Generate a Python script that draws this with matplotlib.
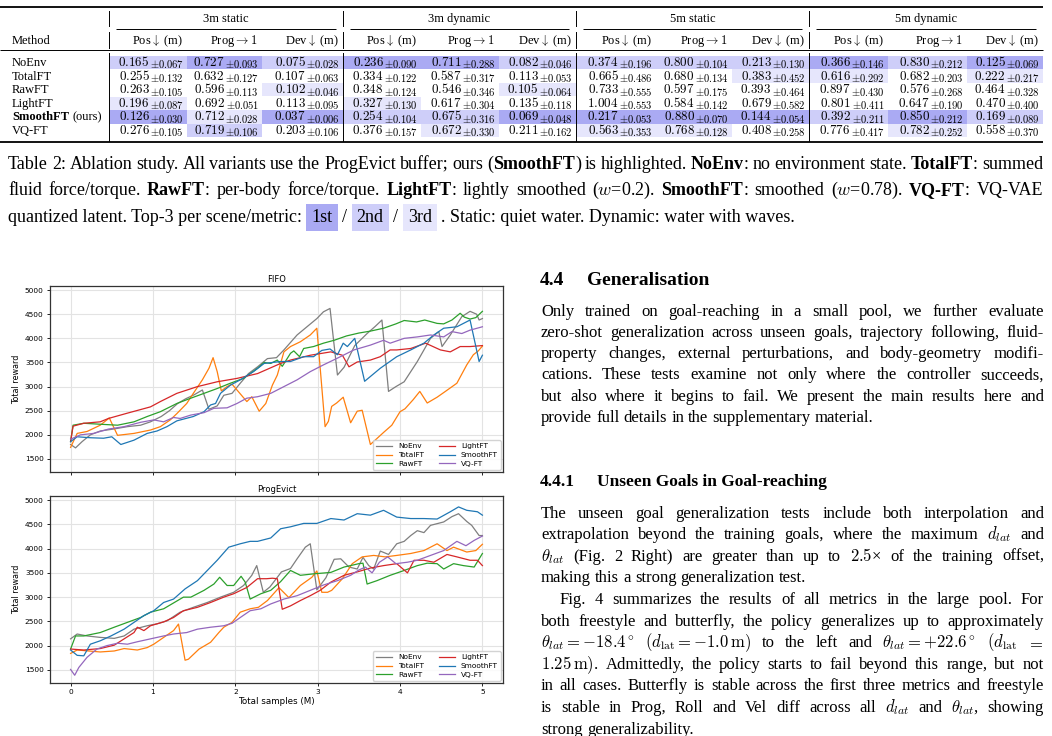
import matplotlib.pyplot as plt
import numpy as np
from matplotlib.patches import Rectangle

plt.rcParams['mathtext.fontset'] = 'cm'
SERIF = 'Liberation Serif'

# ---------------- table data (Table 2) ----------------
methods = ["NoEnv", "TotalFT", "RawFT", "LightFT", "SmoothFT", "VQ-FT"]
scenes = ["3m static", "3m dynamic", "5m static", "5m dynamic"]
metrics = [r"Pos$\downarrow$ (m)", r"Prog$\rightarrow 1$", r"Dev$\downarrow$ (m)"]
means = [
    [0.165, 0.727, 0.075, 0.236, 0.711, 0.082, 0.374, 0.800, 0.213, 0.366, 0.830, 0.125],
    [0.255, 0.632, 0.107, 0.334, 0.587, 0.113, 0.665, 0.680, 0.383, 0.616, 0.682, 0.222],
    [0.263, 0.596, 0.102, 0.348, 0.546, 0.105, 0.733, 0.597, 0.393, 0.897, 0.576, 0.464],
    [0.196, 0.692, 0.113, 0.327, 0.617, 0.135, 1.004, 0.584, 0.679, 0.801, 0.647, 0.470],
    [0.126, 0.712, 0.037, 0.254, 0.675, 0.069, 0.217, 0.880, 0.144, 0.392, 0.850, 0.169],
    [0.276, 0.719, 0.203, 0.376, 0.672, 0.211, 0.563, 0.768, 0.408, 0.776, 0.782, 0.558],
]
stds = [
    [0.067, 0.093, 0.028, 0.090, 0.288, 0.046, 0.196, 0.104, 0.130, 0.146, 0.212, 0.069],
    [0.132, 0.127, 0.063, 0.122, 0.317, 0.053, 0.486, 0.134, 0.452, 0.292, 0.203, 0.217],
    [0.105, 0.113, 0.046, 0.124, 0.346, 0.064, 0.555, 0.175, 0.464, 0.430, 0.268, 0.328],
    [0.087, 0.051, 0.095, 0.130, 0.304, 0.118, 0.553, 0.142, 0.582, 0.411, 0.190, 0.400],
    [0.030, 0.028, 0.006, 0.104, 0.316, 0.048, 0.053, 0.070, 0.054, 0.211, 0.212, 0.089],
    [0.105, 0.106, 0.106, 0.157, 0.330, 0.162, 0.353, 0.128, 0.258, 0.417, 0.252, 0.370],
]

# ---------------- training curves (x in M samples, total reward) ----------------
fifo_noenv = ([0, 0.06, 0.14, 0.24, 0.36, 0.52, 0.69, 0.85, 0.97, 1.1, 1.2, 1.3, 1.4, 1.5, 1.6, 1.68, 1.78, 1.86,
               1.96, 2.06, 2.16, 2.27, 2.39, 2.5, 2.59, 2.75, 2.87, 2.99, 3.07, 3.15, 3.24, 3.32, 3.45, 3.6, 3.7,
               3.78, 3.86, 3.95, 4.05, 4.21, 4.37, 4.47, 4.51, 4.61, 4.75, 4.85, 4.93, 4.96, 5.0],
              [1800, 1730, 1860, 2000, 2080, 2120, 2170, 2200, 2270, 2380, 2500, 2650, 2750, 2830, 2930, 2530,
               2600, 2820, 2860, 3070, 3270, 3410, 3580, 3600, 3760, 4070, 4240, 4410, 4550, 4620, 3240, 3400,
               3850, 4100, 4250, 4380, 2900, 3000, 3100, 3520, 4000, 4140, 3830, 4070, 4450, 4560, 4500, 4380, 4410])
fifo_totalft = ([0, 0.08, 0.2, 0.36, 0.47, 0.57, 0.77, 0.97, 1.09, 1.21, 1.29, 1.41, 1.49, 1.6, 1.68, 1.73, 1.78,
                 1.83, 1.9, 1.96, 2.04, 2.14, 2.2, 2.29, 2.37, 2.45, 2.51, 2.59, 2.67, 2.79, 2.91, 2.99, 3.09, 3.13,
                 3.17, 3.23, 3.31, 3.4, 3.48, 3.54, 3.64, 3.8, 3.9, 4.0, 4.06, 4.16, 4.24, 4.33, 4.45, 4.55, 4.69,
                 4.81, 4.89, 4.95, 5.0],
                [1740, 2030, 2070, 2200, 2350, 1990, 2030, 2100, 2170, 2310, 2440, 2650, 2860, 3140, 3380, 3600,
                 3310, 2910, 3000, 3050, 2890, 2690, 2790, 2490, 2650, 3030, 3240, 3720, 3830, 3930, 4070, 4210,
                 2170, 2280, 2590, 2660, 2780, 2250, 2490, 2510, 1800, 2050, 2200, 2480, 2540, 2730, 2900, 2660,
                 2780, 2900, 3070, 3450, 3660, 3740, 3840])
fifo_rawft = ([0, 0.03, 0.16, 0.36, 0.57, 0.77, 0.93, 1.09, 1.29, 1.46, 1.62, 1.78, 1.94, 2.1, 2.27, 2.35, 2.43,
               2.51, 2.57, 2.67, 2.71, 2.78, 2.83, 2.95, 3.07, 3.2, 3.35, 3.5, 3.64, 3.8, 3.95, 4.05, 4.2, 4.3,
               4.45, 4.53, 4.63, 4.73, 4.78, 4.85, 4.92, 5.0],
              [1860, 2200, 2240, 2220, 2200, 2270, 2380, 2480, 2650, 2760, 2860, 2960, 3070, 3170, 3380, 3500,
               3480, 3550, 3420, 3690, 3740, 3620, 3790, 3830, 3900, 3960, 4050, 4110, 4150, 4210, 4300, 4370,
               4340, 4380, 4310, 4300, 4380, 4520, 4440, 4400, 4430, 4560])
fifo_lightft = ([0, 0.03, 0.16, 0.36, 0.46, 0.69, 0.97, 1.09, 1.29, 1.54, 1.78, 2.02, 2.27, 2.55, 2.67, 2.91,
                 3.16, 3.3, 3.38, 3.48, 3.64, 3.76, 3.88, 3.96, 4.13, 4.31, 4.49, 4.61, 4.73, 4.85, 5.0],
                [1860, 2180, 2240, 2270, 2340, 2450, 2580, 2690, 2860, 3000, 3100, 3170, 3270, 3480, 3550, 3650,
                 3720, 3650, 3410, 3510, 3550, 3620, 3760, 3760, 3790, 3900, 3760, 3720, 3830, 3830, 3850])
fifo_smoothft = ([0, 0.08, 0.24, 0.4, 0.5, 0.61, 0.77, 0.93, 1.05, 1.17, 1.29, 1.49, 1.62, 1.7, 1.76, 1.82, 1.94,
                  2.06, 2.22, 2.35, 2.55, 2.67, 2.83, 2.95, 3.05, 3.15, 3.24, 3.31, 3.36, 3.45, 3.57, 3.76, 3.96,
                  4.13, 4.29, 4.41, 4.53, 4.69, 4.85, 4.96, 5.0],
                 [1860, 1960, 1940, 1930, 1960, 1800, 1890, 2030, 2080, 2170, 2290, 2380, 2480, 2620, 2650, 2860,
                  3030, 3140, 3310, 3480, 3520, 3520, 3620, 3620, 3750, 3780, 3660, 3900, 3830, 4000, 3110, 3380,
                  3620, 3760, 3900, 4070, 4210, 4240, 4380, 3520, 3650])
fifo_vqft = ([0, 0.12, 0.28, 0.46, 0.65, 0.85, 1.01, 1.13, 1.25, 1.33, 1.46, 1.62, 1.74, 1.9, 2.02, 2.14, 2.27,
              2.43, 2.59, 2.75, 2.91, 3.07, 3.24, 3.44, 3.64, 3.8, 3.88, 4.05, 4.21, 4.37, 4.53, 4.63, 4.75, 4.85, 5.0],
             [1910, 2000, 2030, 2120, 2170, 2260, 2310, 2270, 2360, 2340, 2410, 2460, 2550, 2560, 2650, 2760, 2790,
              2860, 3000, 3140, 3310, 3450, 3590, 3760, 3860, 3960, 3900, 4000, 4030, 4070, 4030, 4140, 4100, 4170, 4240])

prog_noenv = ([0, 0.08, 0.2, 0.36, 0.53, 0.65, 0.77, 0.93, 1.05, 1.17, 1.33, 1.49, 1.66, 1.82, 1.98, 2.1, 2.2,
               2.26, 2.34, 2.42, 2.56, 2.67, 2.75, 2.85, 2.91, 2.99, 3.1, 3.2, 3.28, 3.38, 3.48, 3.55, 3.62, 3.68,
               3.76, 3.86, 3.96, 4.05, 4.13, 4.21, 4.29, 4.37, 4.53, 4.63, 4.71, 4.81, 4.87, 4.96, 5.0],
              [2140, 2240, 2200, 2170, 2150, 2200, 2340, 2410, 2450, 2510, 2690, 2790, 2890, 3000, 3100, 3240, 3450,
               3650, 3100, 3210, 3520, 3590, 3790, 4030, 4100, 3150, 3400, 3780, 3790, 3620, 3580, 3820, 3650, 3580,
               3950, 3880, 4100, 4150, 4270, 4370, 4330, 4480, 4550, 4660, 4720, 4560, 4480, 4270, 4270])
prog_totalft = ([0, 0.08, 0.36, 0.53, 0.65, 0.81, 0.93, 1.01, 1.13, 1.25, 1.31, 1.39, 1.43, 1.56, 1.7, 1.8, 1.86,
                 1.96, 2.06, 2.18, 2.28, 2.39, 2.53, 2.65, 2.79, 2.93, 2.99, 3.05, 3.12, 3.17, 3.3, 3.42, 3.54, 3.68,
                 3.82, 3.96, 4.13, 4.29, 4.45, 4.57, 4.65, 4.81, 4.92, 5.0],
                [1840, 1910, 1870, 1890, 1940, 1910, 1960, 2030, 2170, 2310, 2445, 1700, 1720, 1930, 2070, 2270,
                 2380, 2480, 2690, 2760, 2790, 2930, 3195, 2990, 3240, 3410, 3540, 3100, 3100, 3140, 3380, 3690,
                 3830, 3860, 3830, 3860, 3900, 3960, 4100, 3960, 4030, 3930, 3960, 4090])
prog_rawft = ([0, 0.06, 0.16, 0.36, 0.53, 0.69, 0.85, 0.97, 1.13, 1.25, 1.37, 1.46, 1.62, 1.74, 1.81, 1.9, 1.98,
               2.07, 2.12, 2.18, 2.31, 2.43, 2.55, 2.67, 2.79, 2.95, 3.16, 3.32, 3.5, 3.55, 3.6, 3.72, 3.88, 4.05,
               4.21, 4.33, 4.45, 4.53, 4.65, 4.77, 4.9, 5.0],
              [1930, 2200, 2200, 2270, 2380, 2480, 2580, 2690, 2760, 2880, 3000, 3000, 3140, 3270, 3410, 3240,
               3240, 3430, 3310, 2960, 3070, 3140, 3320, 3550, 3450, 3480, 3510, 3620, 3690, 3700, 3270, 3340,
               3450, 3550, 3650, 3700, 3690, 3580, 3690, 3650, 3620, 3900])
prog_lightft = ([0, 0.16, 0.36, 0.53, 0.65, 0.77, 0.81, 0.89, 0.97, 1.13, 1.25, 1.37, 1.54, 1.7, 1.86, 1.98, 2.14,
                 2.27, 2.38, 2.45, 2.51, 2.57, 2.67, 2.79, 2.91, 3.03, 3.16, 3.32, 3.48, 3.64, 3.8, 3.96, 4.09, 4.17,
                 4.29, 4.41, 4.57, 4.69, 4.85, 4.94, 5.0],
                [1930, 1910, 1940, 2010, 2140, 2270, 2380, 2310, 2410, 2490, 2580, 2720, 2790, 2890, 3000, 3070,
                 3200, 3380, 3380, 3390, 3380, 2750, 2820, 2930, 3030, 3140, 3310, 3450, 3520, 3600, 3650, 3690,
                 3500, 3760, 3760, 3720, 3880, 3830, 3760, 3760, 3650])
prog_smoothft = ([0, 0.08, 0.16, 0.24, 0.36, 0.49, 0.65, 0.77, 0.89, 1.01, 1.13, 1.25, 1.39, 1.54, 1.66, 1.78,
                  1.92, 2.06, 2.18, 2.27, 2.43, 2.55, 2.67, 2.83, 2.99, 3.16, 3.32, 3.48, 3.64, 3.8, 3.96, 4.13,
                  4.29, 4.45, 4.61, 4.71, 4.81, 4.94, 5.0],
                 [1910, 1800, 1790, 2030, 2100, 2200, 2340, 2480, 2620, 2720, 2890, 2960, 3170, 3340, 3550, 3760,
                  4030, 4100, 4150, 4150, 4220, 4410, 4450, 4520, 4520, 4620, 4590, 4720, 4690, 4790, 4650, 4620,
                  4620, 4610, 4760, 4860, 4790, 4760, 4690])
prog_vqft = ([0, 0.05, 0.1, 0.2, 0.32, 0.44, 0.57, 0.69, 0.81, 0.97, 1.13, 1.25, 1.41, 1.54, 1.7, 1.86, 1.96, 2.06,
              2.18, 2.31, 2.43, 2.59, 2.75, 2.91, 3.07, 3.24, 3.4, 3.5, 3.58, 3.66, 3.75, 3.85, 3.95, 4.09, 4.21,
              4.37, 4.53, 4.69, 4.8, 4.9, 5.0],
             [1510, 1390, 1550, 1760, 1930, 2000, 2050, 2030, 2080, 2140, 2200, 2240, 2270, 2340, 2380, 2410, 2460,
              2580, 2720, 2760, 2860, 2960, 3030, 3140, 3250, 3340, 3450, 3560, 3620, 3500, 3720, 3830, 3690, 3720,
              3760, 3860, 3960, 4150, 4060, 4170, 4260])

line_colors = ['#7f7f7f', '#ff7f0e', '#2ca02c', '#d62728', '#1f77b4', '#9467bd']
fifo_runs = [fifo_noenv, fifo_totalft, fifo_rawft, fifo_lightft, fifo_smoothft, fifo_vqft]
prog_runs = [prog_noenv, prog_totalft, prog_rawft, prog_lightft, prog_smoothft, prog_vqft]

# ---------------- page canvas ----------------
W, H = 1052, 736
fig = plt.figure(figsize=(W / 100, H / 100), dpi=100)
page = fig.add_axes([0, 0, 1, 1])
page.set_xlim(0, W)
page.set_ylim(H, 0)
page.axis('off')
rend = fig.canvas.get_renderer()


def wid(t):
    return t.get_window_extent(rend).width


def hline(x0, x1, y, lw):
    page.plot([x0, x1], [y, y], color='black', lw=lw, solid_capstyle='butt')


def words_of(s):
    out, cur, math = [], '', False
    for ch in s:
        if ch == '$':
            math = not math
        if ch == ' ' and not math:
            if cur:
                out.append(cur)
            cur = ''
        else:
            cur += ch
    if cur:
        out.append(cur)
    return out


def set_line(s, x0, x1, y, size, justify=True, min_gap=3.0):
    # lays out one line word by word, **...** marks bold runs
    bold = False
    placed = []
    for w in words_of(s):
        pieces = []
        for i, p in enumerate(w.split('**')):
            if i:
                bold = not bold
            if p:
                pieces.append(page.text(x0, y, p, fontsize=size, family=SERIF, va='baseline',
                                        fontweight='bold' if bold else 'normal'))
        placed.append(pieces)
    n = len(placed)
    total = sum(wid(t) for pc in placed for t in pc)
    gap = 0.25 * size * 100 / 72
    if justify and n > 1:
        gap = (x1 - x0 - total) / (n - 1)
        while gap < min_gap:
            size *= 0.98
            for pc in placed:
                for t in pc:
                    t.set_fontsize(size)
            total = sum(wid(t) for pc in placed for t in pc)
            gap = (x1 - x0 - total) / (n - 1)
    x = x0
    for pc in placed:
        for t in pc:
            t.set_x(x)
            x += wid(t)
        x += gap


# ---------------- table ----------------
TS = 9
bounds = [[109, 187, 262, 343], [343, 421, 499, 576], [576, 656, 732, 809], [809, 888, 967, 1043]]
row_y = 62.5 + 13.6 * np.arange(6)
rank_colors = ['#aaaaf3', '#cecef9', '#e6e6fc']

hline(0, 1043, 7, 1.3)
hline(0, 1043, 50, 0.7)
hline(0, 1043, 142, 1.3)
for xv in [109, 343, 576, 809]:
    for y0, y1 in [(11, 26), (32, 48), (53, 141)]:
        page.plot([xv, xv], [y0, y1], color='black', lw=0.7)

page.text(12, 44, "Method", fontsize=TS, family=SERIF, va='baseline')
for g in range(4):
    b = bounds[g]
    hline(b[0] + 7, b[3] - 7, 29, 0.7)
    page.text((b[0] + b[3]) / 2, 22, scenes[g], fontsize=TS, family=SERIF, ha='center', va='baseline')
    for j in range(3):
        page.text(b[j + 1] - 4, 44, metrics[j], fontsize=TS, family=SERIF, ha='right', va='baseline')

for r, name in enumerate(methods):
    if name == "SmoothFT":
        t = page.text(12, row_y[r] + 3.5, name, fontsize=TS, family=SERIF, fontweight='bold', va='baseline')
        page.annotate("(ours)", xy=(1, 0), xycoords=t, xytext=(2.5, 0), textcoords='offset points',
                      fontsize=TS, family=SERIF, va='bottom')
    else:
        page.text(12, row_y[r] + 3.5, name, fontsize=TS, family=SERIF, va='baseline')

for c in range(12):
    g, j = divmod(c, 3)
    x0, x1 = bounds[g][j], bounds[g][j + 1]
    col = np.array([m[c] for m in means])
    order = np.argsort(-col if j == 1 else col)
    for rank in range(3):
        r = order[rank]
        page.add_patch(Rectangle((x0, row_y[r] - 6.8), x1 - x0, 13.6, fc=rank_colors[rank], ec='none', zorder=0))
    for r in range(6):
        sub = page.text(x1 - 3, row_y[r] + 5.8, rf"$\pm{stds[r][c]:.3f}$", fontsize=7.6, ha='right', va='baseline')
        page.text(x1 - 3.5 - wid(sub), row_y[r] + 3.5, rf"${means[r][c]:.3f}$", fontsize=9.4,
                  ha='right', va='baseline')

# ---------------- caption ----------------
CS = 13
cap = [
    "Table 2: Ablation study. All variants use the ProgEvict buffer; ours (**SmoothFT**) is highlighted. "
    "**NoEnv**: no environment state. **TotalFT**: summed",
    "fluid force/torque. **RawFT**: per-body force/torque. **LightFT**: lightly smoothed ($w$=0.2). "
    "**SmoothFT**: smoothed ($w$=0.78). **VQ-FT**: VQ-VAE",
]
set_line(cap[0], 8, 1043, 169, CS)
set_line(cap[1], 8, 1043, 195, CS)
x = 8.0
sp = 0.25 * CS * 100 / 72
pad = 5.0
for tok, box in [("quantized latent. Top-3 per scene/metric:", None), ("1st", 0), ("/", None), ("2nd", 1),
                 ("/", None), ("3rd", 2), (". Static: quiet water. Dynamic: water with waves.", None)]:
    if box is None:
        t = page.text(x, 222, tok, fontsize=CS, family=SERIF, va='baseline')
        x += wid(t) + sp
    else:
        t = page.text(x + pad, 222, tok, fontsize=CS, family=SERIF, va='baseline',
                      bbox=dict(boxstyle='square,pad=0.28', fc=rank_colors[box], ec='none'))
        x += wid(t) + 2 * pad + sp

# ---------------- right column text ----------------
BS = 12
page.text(540, 285, "4.4", fontsize=14, family=SERIF, fontweight='bold', va='baseline')
page.text(587, 285, "Generalisation", fontsize=14, family=SERIF, fontweight='bold', va='baseline')
para1 = [
    "Only trained on goal-reaching in a small pool, we further evaluate",
    "zero-shot generalization across unseen goals, trajectory following, fluid-",
    "property changes, external perturbations, and body-geometry modifi-",
    "cations. These tests examine not only where the controller succeeds,",
    "but also where it begins to fail. We present the main results here and",
    "provide full details in the supplementary material.",
]
for i, s in enumerate(para1):
    set_line(s, 541, 1044, 315.5 + 21.3 * i, BS, justify=i < len(para1) - 1)

page.text(540, 486, "4.4.1", fontsize=12.5, family=SERIF, fontweight='bold', va='baseline')
page.text(597, 486, "Unseen Goals in Goal-reaching", fontsize=12.5, family=SERIF, fontweight='bold', va='baseline')
para2 = [
    "The unseen goal generalization tests include both interpolation and",
    r"extrapolation beyond the training goals, where the maximum $d_{lat}$ and",
    r"$\theta_{lat}$ (Fig. 2 Right) are greater than up to $2.5$× of the training offset,",
    "making this a strong generalization test.",
    "Fig. 4 summarizes the results of all metrics in the large pool. For",
    "both freestyle and butterfly, the policy generalizes up to approximately",
    r"$\theta_{lat}=-18.4^\circ$ $(d_{\mathrm{lat}}=-1.0\,\mathrm{m})$ to the left and "
    r"$\theta_{lat}=+22.6^\circ$ $(d_{\mathrm{lat}}$ $=$",
    r"$1.25\,\mathrm{m})$. Admittedly, the policy starts to fail beyond this range, but not",
    "in all cases. Butterfly is stable across the first three metrics and freestyle",
    r"is stable in Prog, Roll and Vel diff across all $d_{lat}$ and $\theta_{lat}$, showing",
    "strong generalizability.",
]
for i, s in enumerate(para2):
    x0 = 560 if i == 4 else 541
    set_line(s, x0, 1044, 517.5 + 21.6 * i, BS, justify=i not in (3, 10))

# ---------------- the two training-curve panels ----------------
ax1 = fig.add_axes([50 / W, 1 - 472 / H, 453 / W, 186 / H])
ax2 = fig.add_axes([50 / W, 1 - 683 / H, 453 / W, 187 / H])
for ax, runs, title in [(ax1, fifo_runs, "FIFO"), (ax2, prog_runs, "ProgEvict")]:
    for (xs, ys), name, colr in zip(runs, methods, line_colors):
        ax.plot(xs, ys, color=colr, lw=0.9, label=name)
    ax.set_xlim(-0.25, 5.25)
    ax.set_ylim(1230, 5085)
    ax.set_xticks(range(6))
    ax.set_yticks(range(1500, 5001, 500))
    ax.grid(True, color='#e3e3e3', lw=0.8)
    ax.set_axisbelow(True)
    ax.tick_params(labelsize=5.3, length=2.5, width=0.6, pad=2)
    for s in ax.spines.values():
        s.set_linewidth(0.9)
        s.set_color('#333333')
    ax.set_title(title, fontsize=6, pad=3)
    ax.set_ylabel("Total reward", fontsize=5.8, labelpad=3)
    ax.legend(loc='lower right', ncol=2, fontsize=5.3, handlelength=2.2, columnspacing=2.0,
              borderaxespad=0.3, labelspacing=0.35, framealpha=0.85)
ax1.tick_params(labelbottom=False)
ax2.set_xlabel("Total samples (M)", fontsize=6.3, labelpad=1)

fig.savefig("out.png", dpi=100)
